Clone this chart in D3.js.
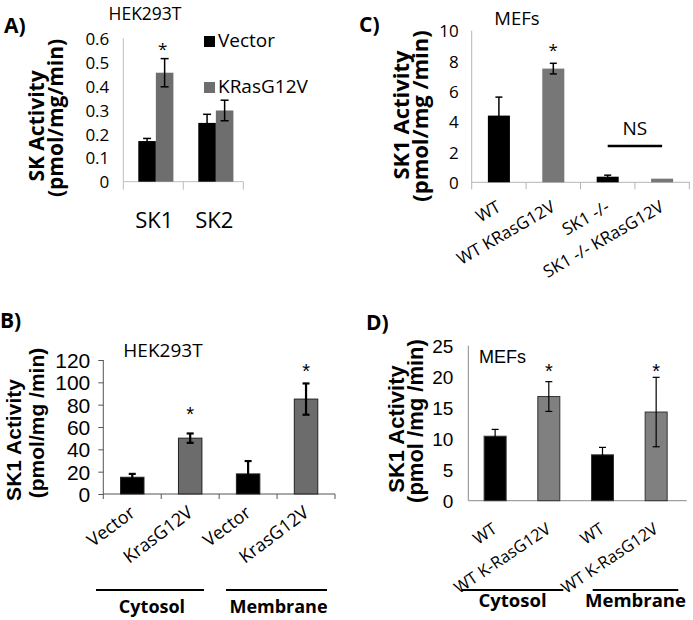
<!DOCTYPE html>
<html><head><meta charset="utf-8">
<script src="https://cdn.jsdelivr.net/npm/d3@7"></script>
<style>body{margin:0;background:#fff} svg{display:block}</style>
</head><body>
<svg id="chart" width="693" height="620"></svg>
<script>
// ---------- DATA ----------
// Panel A
const aCategories = ["SK1", "SK2"];
const aSeries = ["Vector", "KRasG12V"];
const aVector = [0.17, 0.246];
const aVectorErr = [0.011, 0.036];
const aKras = [0.456, 0.298];
const aKrasErr = [0.059, 0.043];
const aKrasStar = [0.57, null];
const aTicks = [0, 0.1, 0.2, 0.3, 0.4, 0.5, 0.6];
const aTickLabels = ["0", "0.1", "0.2", "0.3", "0.4", "0.5", "0.6"];
// Panel B
const bCategories = ["Vector", "KrasG12V", "Vector", "KrasG12V"];
const bValues = [15, 50, 18, 85];
const bErrors = [3, 4.2, 11.5, 14];
const bStars = [null, 75, null, 114];
const bGroups = ["Cytosol", "Membrane"];
const bTicks = [0, 20, 40, 60, 80, 100, 120];
// Panel C
const cCategories = ["WT", "WT KRasG12V", "SK1 -/-", "SK1 -/- KRasG12V"];
const cValues = [4.4, 7.5, 0.37, 0.24];
const cErrors = [1.22, 0.35, 0.1, 0];
const cStars = [null, 9.0, null, null];
const cNSValue = 2.4;
const cNSLabel = "NS";
const cTicks = [0, 2, 4, 6, 8, 10];
// Panel D
const dCategories = ["WT", "WT K-RasG12V", "WT", "WT K-RasG12V"];
const dValues = [10.4, 16.8, 7.4, 14.3];
const dErrors = [1.1, 2.4, 1.2, 5.6];
const dStars = [null, 21.6, null, 21.6];
const dGroups = ["Cytosol", "Membrane"];
const dTicks = [0, 5, 10, 15, 20, 25];

// ---------- STYLE ----------
const CAL = "'Open Sans', 'DejaVu Sans', sans-serif";
const ARI = "'Liberation Sans', Arial, sans-serif";
const BLACK = "#000";
const GRAY_A = "#6e6e6e";
const svg = d3.select("#chart");

function txt(g, s, x, y, o) {
  const t = g.append("text").attr("x", x).attr("y", y).text(s)
    .attr("font-family", o.font || CAL).attr("font-size", o.size || 16)
    .attr("font-weight", o.weight || "normal").attr("fill", o.fill || "#000")
    .attr("text-anchor", o.anchor || "start");
  if (o.rotate !== undefined) t.attr("transform", `rotate(${o.rotate},${x},${y})`);
  return t;
}

function errBar(g, x, yTop, yBot, cap, sw) {
  g.append("line").attr("x1", x).attr("x2", x).attr("y1", yTop).attr("y2", yBot)
    .attr("stroke", "#000").attr("stroke-width", sw);
  g.append("line").attr("x1", x - cap).attr("x2", x + cap).attr("y1", yTop).attr("y2", yTop)
    .attr("stroke", "#000").attr("stroke-width", sw);
  if (yBot !== yTop)
    g.append("line").attr("x1", x - cap).attr("x2", x + cap).attr("y1", yBot).attr("y2", yBot)
      .attr("stroke", "#000").attr("stroke-width", sw);
}

// generic single-series panel (B, C, D)
function panel(cfg) {
  const g = svg.append("g");
  const y = d3.scaleLinear().domain([0, cfg.max]).range([cfg.zeroY, cfg.topY]);
  const x = d3.scaleBand().domain(d3.range(cfg.categories.length)).range([cfg.left, cfg.right]).padding(0);
  const bw = x.bandwidth() * cfg.barRatio;
  const ya = d3.axisLeft(y).tickValues(cfg.ticks).tickSize(cfg.yTickLen).tickSizeOuter(0)
    .tickPadding(cfg.tickPad).tickFormat(d3.format("d"));
  const yg = g.append("g").attr("transform", `translate(${cfg.left},0)`).call(ya);
  yg.select(".domain").remove();
  yg.selectAll("line").attr("stroke", cfg.axisColor);
  yg.selectAll("text").attr("font-family", cfg.tickFont).attr("font-size", cfg.tickSize)
    .attr("fill", "#000").attr("dy", "0.36em");
  g.append("line").attr("x1", cfg.left).attr("x2", cfg.left)
    .attr("y1", y(cfg.max)).attr("y2", y(0) + cfg.axisExt).attr("stroke", cfg.axisColor).attr("stroke-width", cfg.axisW);
  g.append("line").attr("x1", cfg.left).attr("x2", cfg.axisRight)
    .attr("y1", y(0)).attr("y2", y(0)).attr("stroke", cfg.axisColor).attr("stroke-width", cfg.axisW);
  if (cfg.xTickLen) {
    cfg.categories.forEach((c, i) => {
      if (i === 0) return;
      g.append("line").attr("x1", x(i)).attr("x2", x(i)).attr("y1", y(0)).attr("y2", y(0) + cfg.xTickLen)
        .attr("stroke", cfg.axisColor).attr("stroke-width", cfg.axisW);
    });
    g.append("line").attr("x1", cfg.right).attr("x2", cfg.right).attr("y1", y(0)).attr("y2", y(0) + cfg.xTickLen)
      .attr("stroke", cfg.axisColor).attr("stroke-width", cfg.axisW);
  }
  cfg.values.forEach((v, i) => {
    const cx = x(i) + x.bandwidth() / 2;
    g.append("rect").attr("x", cx - bw / 2).attr("width", bw)
      .attr("y", y(v)).attr("height", y(0) - y(v))
      .attr("fill", i % 2 === 0 ? BLACK : cfg.gray)
      .attr("stroke", cfg.barStroke || "none").attr("stroke-width", cfg.barStroke ? 1 : 0);
  });
  cfg.values.forEach((v, i) => {
    const cx = x(i) + x.bandwidth() / 2;
    const e = cfg.errors[i];
    if (e > 0) errBar(g, cx, y(v + e), y(v - e), cfg.cap, cfg.errW);
    if (cfg.stars[i] !== null) txt(g, "*", cx, y(cfg.stars[i]) + cfg.starOff, { font: cfg.starFont, size: cfg.starSize, anchor: "middle" });
  });
  cfg.categories.forEach((c, i) => {
    const cx = x(i) + x.bandwidth() / 2;
    txt(g, c, cx + cfg.lblDx, y(0) + cfg.lblDy, { font: CAL, size: cfg.lblSize, anchor: "end", rotate: -cfg.lblAngle });
  });
  return { g, x, y };
}

// ---------- PANEL A ----------
(function () {
  const g = svg.append("g");
  const left = 123.3, right = 243.3;
  const y = d3.scaleLinear().domain([0, 0.6]).range([181.7, 38.3]);
  const x = d3.scaleBand().domain(aCategories).range([left, right]).padding(0);
  const inner = d3.scaleBand().domain(aSeries).range([0, x.bandwidth() * 0.585]).padding(0);
  const axisColor = "#bdbdbd";
  const ya = d3.axisLeft(y).tickValues(aTicks).tickSize(0).tickPadding(14)
    .tickFormat((d, i) => aTickLabels[i]);
  const yg = g.append("g").attr("transform", `translate(${left},0)`).call(ya);
  yg.select(".domain").remove();
  yg.selectAll("text").attr("font-family", CAL).attr("font-size", 17).attr("fill", "#000").attr("dy", "0.36em");
  g.append("line").attr("x1", left).attr("x2", left).attr("y1", y(0.6)).attr("y2", y(0) + 8).attr("stroke", axisColor);
  g.append("line").attr("x1", left).attr("x2", right).attr("y1", y(0)).attr("y2", y(0)).attr("stroke", axisColor);
  aCategories.forEach((c) => {
    g.append("line").attr("x1", x(c) + x.bandwidth()).attr("x2", x(c) + x.bandwidth())
      .attr("y1", y(0)).attr("y2", y(0) + 8).attr("stroke", axisColor);
  });
  const vals = { "Vector": aVector, "KRasG12V": aKras };
  const errs = { "Vector": aVectorErr, "KRasG12V": aKrasErr };
  const cols = { "Vector": BLACK, "KRasG12V": GRAY_A };
  aCategories.forEach((c, i) => {
    const gx = x(c) + 15;
    aSeries.forEach(s => {
      const v = vals[s][i];
      g.append("rect").attr("x", gx + inner(s)).attr("width", inner.bandwidth())
        .attr("y", y(v)).attr("height", y(0) - y(v)).attr("fill", cols[s]);
    });
    aSeries.forEach(s => {
      const v = vals[s][i], e = errs[s][i];
      const cx = gx + inner(s) + inner.bandwidth() / 2;
      errBar(g, cx, y(v + e), y(v - e), 4, 1.5);
    });
    if (aKrasStar[i] !== null) {
      const cx = gx + inner("KRasG12V") + inner.bandwidth() / 2;
      txt(g, "*", cx - 2, y(aKrasStar[i]) + 10, { size: 17, anchor: "middle" });
    }
    txt(g, c, x(c) + x.bandwidth() / 2 + 1, 228, { size: 22, anchor: "middle" });
  });
  aSeries.forEach((s, i) => {
    const ly = 36 + i * 46;
    g.append("rect").attr("x", 204).attr("y", ly).attr("width", 11).attr("height", 11).attr("fill", cols[s]);
    txt(g, s, 218, ly + 11, { size: 19 });
  });
  txt(g, "HEK293T", 145, 20, { size: 17.5, anchor: "middle" });
  txt(g, "A)", 4, 33, { size: 21, weight: "bold" });
  txt(g, "SK Activity", 44, 126, { size: 21, weight: "bold", anchor: "middle", rotate: -90 });
  txt(g, "(pmol/mg/min)", 63, 118, { size: 21, weight: "bold", anchor: "middle", rotate: -90 });
})();

// ---------- PANEL C ----------
(function () {
  const p = panel({
    categories: cCategories, values: cValues, errors: cErrors, stars: cStars,
    max: 10, ticks: cTicks, left: 471.7, right: 689.3, axisRight: 690, zeroY: 182.3, topY: 30.7,
    barRatio: 0.405, gray: "#777777", axisColor: "#b5b5b5", axisW: 1, axisExt: 7, xTickLen: 7,
    yTickLen: 0, tickPad: 13, tickFont: CAL, tickSize: 17, cap: 3.5, errW: 1.5,
    starFont: CAL, starSize: 17, starOff: 10, lblDx: 3, lblDy: 28, lblSize: 17, lblAngle: 30
  });
  const g = p.g;
  const x1 = p.x(2) + p.x.bandwidth() / 2, x2 = p.x(3) + p.x.bandwidth() / 2;
  g.append("line").attr("x1", x1).attr("x2", x2).attr("y1", p.y(cNSValue)).attr("y2", p.y(cNSValue))
    .attr("stroke", "#000").attr("stroke-width", 2.5);
  txt(g, cNSLabel, (x1 + x2) / 2, p.y(cNSValue) - 11, { size: 19, anchor: "middle" });
  txt(g, "MEFs", 517, 25, { size: 18.5, anchor: "middle" });
  txt(g, "C)", 359, 32, { size: 21, weight: "bold" });
  txt(g, "SK1 Activity", 409, 115, { size: 22, weight: "bold", anchor: "middle", rotate: -90 });
  txt(g, "(pmol/mg /min)", 428, 116, { size: 22, weight: "bold", anchor: "middle", rotate: -90 });
})();

// ---------- PANEL B ----------
(function () {
  const p = panel({
    categories: bCategories, values: bValues, errors: bErrors, stars: bStars,
    max: 120, ticks: bTicks, left: 103.3, right: 335, axisRight: 335, zeroY: 494, topY: 360,
    barRatio: 0.405, gray: "#6c6c6c", barStroke: "#222", axisColor: "#555", axisW: 1, axisExt: 5, xTickLen: 5,
    yTickLen: 5, tickPad: 8, tickFont: ARI, tickSize: 21, cap: 3.5, errW: 2.2,
    starFont: ARI, starSize: 20, starOff: 11, lblDx: 4, lblDy: 21, lblSize: 18, lblAngle: 37
  });
  const g = p.g;
  const gy = 590;
  const lines = [[96, 204], [226, 327]];
  bGroups.forEach((s, i) => {
    g.append("line").attr("x1", lines[i][0]).attr("x2", lines[i][1]).attr("y1", gy).attr("y2", gy)
      .attr("stroke", "#000").attr("stroke-width", 2.2);
    txt(g, s, (lines[i][0] + lines[i][1]) / 2 + 2, 613, { size: 18, weight: "bold", anchor: "middle" });
  });
  txt(g, "HEK293T", 163, 357, { size: 19, anchor: "middle" });
  txt(g, "B)", 0, 328, { size: 21, weight: "bold" });
  txt(g, "SK1 Activity", 21, 440, { font: ARI, size: 21, weight: "bold", anchor: "middle", rotate: -90 });
  txt(g, "(pmol/mg  /min)", 44, 423, { font: ARI, size: 21, weight: "bold", anchor: "middle", rotate: -90 });
})();

// ---------- PANEL D ----------
(function () {
  const p = panel({
    categories: dCategories, values: dValues, errors: dErrors, stars: dStars,
    max: 25, ticks: dTicks, left: 468.3, right: 683, axisRight: 686.7, zeroY: 500.7, topY: 345.7,
    barRatio: 0.41, gray: "#808080", barStroke: "#333", axisColor: "#8a8a8a", axisW: 1, axisExt: 0, xTickLen: 0,
    yTickLen: 0, tickPad: 15, tickFont: ARI, tickSize: 19, cap: 3.5, errW: 1.2,
    starFont: ARI, starSize: 20, starOff: 11, lblDx: 3, lblDy: 31, lblSize: 16.5, lblAngle: 34
  });
  const g = p.g;
  const gy = 590;
  const lines = [[461.7, 563.3], [592.7, 678.3]];
  dGroups.forEach((s, i) => {
    g.append("line").attr("x1", lines[i][0]).attr("x2", lines[i][1]).attr("y1", gy).attr("y2", gy)
      .attr("stroke", "#000").attr("stroke-width", 2);
    txt(g, s, (lines[i][0] + lines[i][1]) / 2, 607, { size: 18.5, weight: "bold", anchor: "middle" });
  });
  txt(g, "MEFs", 479, 363, { font: ARI, size: 18 });
  txt(g, "D)", 366, 330, { size: 21, weight: "bold" });
  txt(g, "SK1 Activity", 404, 429, { font: ARI, size: 22, weight: "bold", anchor: "middle", rotate: -90 });
  txt(g, "(pmol /mg /min)", 423, 421, { font: ARI, size: 22, weight: "bold", anchor: "middle", rotate: -90 });
})();
</script>
</body></html>
